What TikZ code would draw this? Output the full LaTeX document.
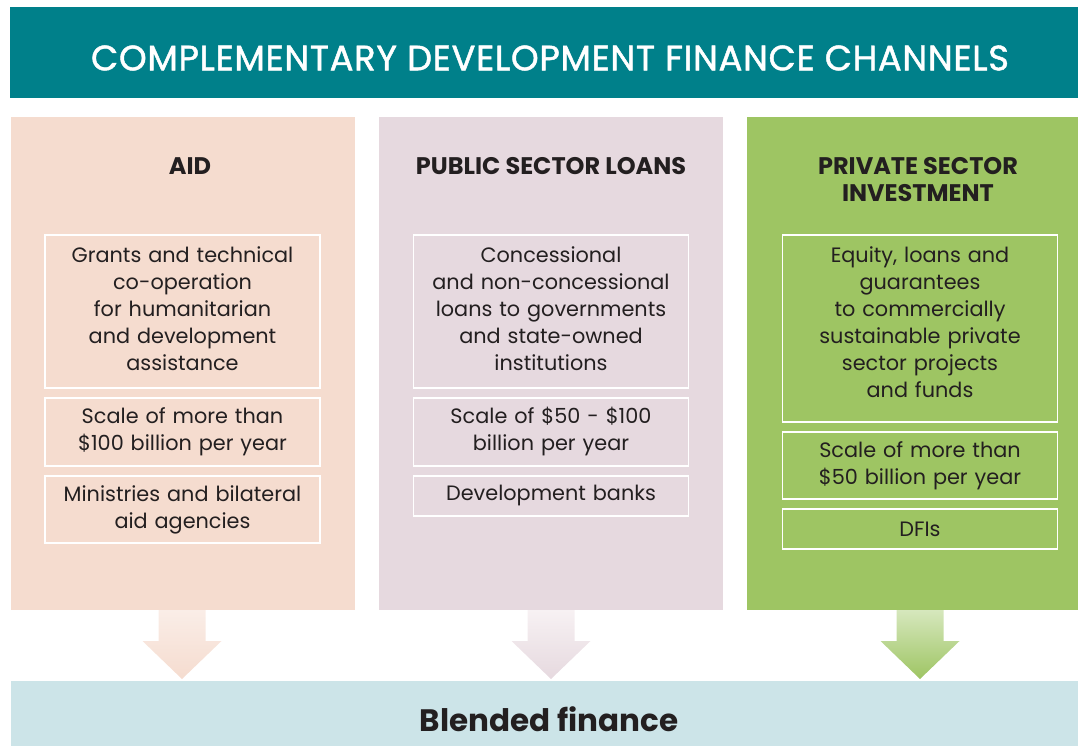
\documentclass[tikz,border=0pt]{standalone}
\usepackage{fontspec}
\setmainfont{Poppins}
\newfontfamily\titlefont{Poppins}
\newfontfamily\hdrfont[FakeBold=1.3,LetterSpace=2]{Poppins}
\usetikzlibrary{calc}
\definecolor{hdrteal}{HTML}{00808A}
\definecolor{peach}{HTML}{F5DCCF}
\definecolor{peachlight}{HTML}{FAEDE7}
\definecolor{mauve}{HTML}{E6D9DF}
\definecolor{mauvelight}{HTML}{F7F1F3}
\definecolor{leaf}{HTML}{9EC563}
\definecolor{leaflight}{HTML}{D6E7BD}
\definecolor{blend}{HTML}{CCE4E8}
\definecolor{ink}{HTML}{231F20}
\tikzset{
  colbox/.style={rectangle, anchor=north west, minimum width=344pt, minimum height=493pt, inner sep=0pt, outer sep=0pt},
  heading/.style={font=\titlefont\bfseries\fontsize{24}{26.5}\selectfont, text=ink, align=center},
  bodytext/.style={text width=272pt, align=center, inner sep=0pt, text=ink, font=\fontsize{20.8}{27}\selectfont},
  infobox/.style={rectangle, draw=white, line width=1.5pt, minimum width=275pt, bodytext},
  toptext/.style={bodytext, anchor=north},
}
\begin{document}
\begin{tikzpicture}[x=1pt,y=-1pt]
\useasboundingbox (0,0) rectangle (1078,746);
\clip (0,0) rectangle (1078,746);
% header
\node[rectangle, fill=hdrteal, anchor=north west, minimum width=1080pt, minimum height=91pt, inner sep=0pt] (hdr) at (10,7) {};
\node[text=white, font=\hdrfont\fontsize{35.3}{38}\selectfont] (title) at (550,58) {COMPLEMENTARY DEVELOPMENT FINANCE CHANNELS};
% columns
\node[colbox, fill=peach] (c1) at (11,117) {};
\node[colbox, fill=mauve] (c2) at (379,117) {};
\node[colbox, fill=leaf] (c3) at (747,117) {};
% blended
\node[rectangle, fill=blend, anchor=north west, minimum width=1080pt, minimum height=66pt, inner sep=0pt] (blendbar) at (11,681) {};
\node[font=\titlefont\bfseries\fontsize{31}{34}\selectfont, text=ink] (blendtxt) at (549,719) {Blended finance};
% headings
\node[heading] (h1) at (190,166) {AID};
\node[heading] (h2) at (551,166) {PUBLIC SECTOR LOANS};
\node[heading] (h3) at (918,179.5) {PRIVATE SECTOR\\INVESTMENT};
% column 1 boxes
\node[infobox, minimum height=153pt] (a1) at (182.5,311.5) {};
\node[toptext] (a1t) at (182.5,246) {Grants and technical\\co-operation\\for humanitarian\\and development\\assistance};
\node[infobox, minimum height=68pt] (a2) at (182.5,432) {Scale of more than\\\$100 billion per year};
\node[infobox, minimum height=67pt] (a3) at (182.5,509.5) {Ministries and bilateral\\aid agencies};
% column 2 boxes
\node[infobox, minimum height=153pt] (b1) at (551,311.5) {};
\node[toptext] (b1t) at (551,246) {Concessional\\and non-concessional\\loans to governments\\and state-owned\\institutions};
\node[infobox, minimum height=68pt] (b2) at (551,432) {Scale of \$50 - \$100\\billion per year};
\node[infobox, minimum height=40pt] (b3) at (551,496) {Development banks};
% column 3 boxes
\node[infobox, minimum height=187pt] (p1) at (920,328.5) {};
\node[toptext] (p1t) at (920,246) {Equity, loans and\\guarantees\\to commercially\\sustainable private\\sector projects\\and funds};
\node[infobox, minimum height=67pt] (p2) at (920,465.5) {Scale of more than\\\$50 billion per year};
\node[infobox, minimum height=40pt] (p3) at (920,529) {DFIs};
% block arrows
\foreach \c/\cx/\tc/\bc in {c1/182/peachlight/peach, c2/551/mauvelight/mauve, c3/920/leaflight/leaf}{
  \shade[top color=\tc, bottom color=\bc]
    (\cx-23.5,610) -- (\cx+23.5,610) -- (\cx+23.5,641) -- (\cx+39.5,641)
    -- (\cx,679) -- (\cx-39.5,641) -- (\cx-23.5,641) -- cycle;
}
\end{tikzpicture}
\end{document}
